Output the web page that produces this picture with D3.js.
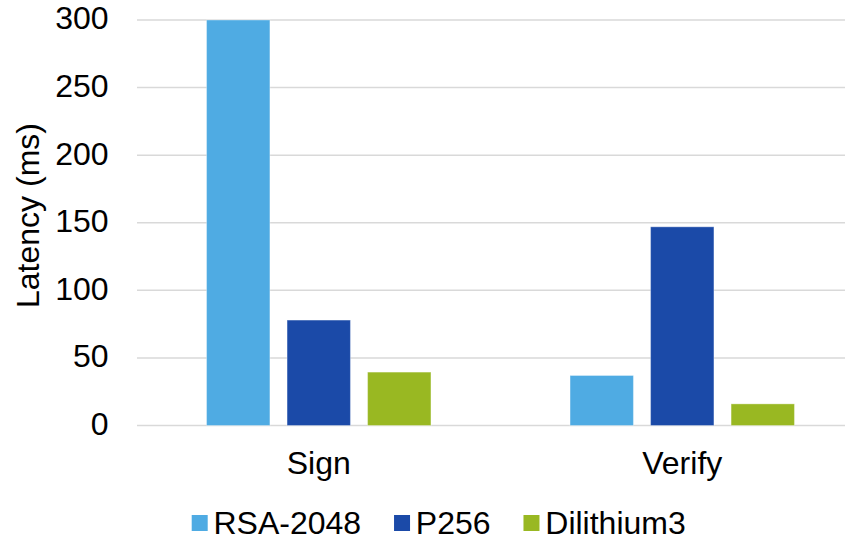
<!DOCTYPE html>
<html>
<head>
<meta charset="utf-8">
<script src="https://cdn.jsdelivr.net/npm/d3@7"></script>
<style>
  html, body { margin: 0; padding: 0; background: #fff; }
  svg { display: block; }
  text { font-family: "Liberation Sans", Arial, sans-serif; fill: #000; }
</style>
</head>
<body>
<svg id="chart" width="845" height="548"></svg>
<script>
// Latency per operation for each signature scheme
const operations = ["Sign", "Verify"];
const schemes = ["RSA-2048", "P256", "Dilithium3"];
const rsa2048 = [300, 37];
const p256 = [78, 147];
const dilithium3 = [39.5, 16];
const yTicks = [0, 50, 100, 150, 200, 250, 300];
const colors = ["#4FABE3", "#1B4AA8", "#99B822"];

const seriesValues = [rsa2048, p256, dilithium3];

const W = 845, H = 548;
const FONT = 32;
const margin = { left: 137, right: -19, top: 20, bottom: 122.5 };
const plotW = W - margin.left - margin.right;
const plotH = H - margin.top - margin.bottom;

const svg = d3.select("#chart");
const g = svg.append("g").attr("transform", `translate(${margin.left},${margin.top})`);

const x0 = d3.scaleBand().domain(operations).range([0, plotW]).paddingInner(0).paddingOuter(0);
const x1 = d3.scaleBand().domain(schemes).range([0, 224.4]).paddingInner(0.213).paddingOuter(0);
const y = d3.scaleLinear().domain([0, 300]).range([plotH, 0]);

// gridlines
g.append("g")
  .selectAll("line")
  .data(yTicks)
  .join("line")
  .attr("x1", 0).attr("x2", plotW)
  .attr("y1", d => y(d)).attr("y2", d => y(d))
  .attr("stroke", "#d9d9d9")
  .attr("stroke-width", 1.5);

// y-axis tick labels
const yAxis = d3.axisLeft(y).tickValues(yTicks).tickSize(0).tickPadding(28.4);
const ya = g.append("g").call(yAxis);
ya.select(".domain").remove();
ya.selectAll("text")
  .attr("font-size", FONT)
  .attr("font-family", "Liberation Sans, Arial, sans-serif")
  .attr("fill", "#000")
  .attr("dy", "0.28em");

// bars
const groups = g.append("g")
  .selectAll("g")
  .data(operations)
  .join("g")
  .attr("transform", d => `translate(${x0(d) + x0.bandwidth() / 2 - 112.2},0)`);

groups.selectAll("rect")
  .data((op, i) => schemes.map((s, j) => ({ scheme: s, value: seriesValues[j][i], j })))
  .join("rect")
  .attr("x", d => x1(d.scheme))
  .attr("y", d => y(d.value))
  .attr("width", x1.bandwidth())
  .attr("height", d => y(0) - y(d.value))
  .attr("fill", d => colors[d.j])
  .attr("stroke", "rgba(255,255,255,0.35)")
  .attr("stroke-width", 1);

// x-axis category labels
const xAxis = d3.axisBottom(x0).tickSize(0).tickPadding(0);
const xa = g.append("g").attr("transform", `translate(0,${plotH})`).call(xAxis);
xa.select(".domain").remove();
xa.selectAll("text")
  .attr("font-size", FONT)
  .attr("font-family", "Liberation Sans, Arial, sans-serif")
  .attr("fill", "#000")
  .attr("dy", null)
  .attr("y", 48.5);

// y-axis title
svg.append("text")
  .attr("transform", `translate(38.5,215.5) rotate(-90)`)
  .attr("text-anchor", "middle")
  .attr("font-size", FONT)
  .text("Latency (ms)");

// legend
const legend = svg.append("g").attr("transform", "translate(191.7,0)");
let cx = 0;
schemes.forEach((s, j) => {
  const item = legend.append("g").attr("transform", `translate(${cx},0)`);
  item.append("rect")
    .attr("x", 0).attr("y", 515)
    .attr("width", 16).attr("height", 16)
    .attr("fill", colors[j]);
  const t = item.append("text")
    .attr("x", 21.8).attr("y", 534)
    .attr("font-size", FONT)
    .text(s);
  cx += 21.8 + t.node().getComputedTextLength() + 32.9;
});
</script>
</body>
</html>
